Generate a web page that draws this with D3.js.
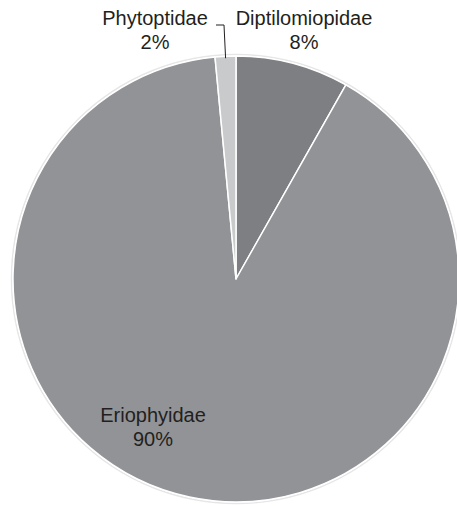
<!DOCTYPE html>
<html>
<head>
<meta charset="utf-8">
<script src="https://cdn.jsdelivr.net/npm/d3@7"></script>
<style>
  body { margin: 0; background: #fff; }
  svg { display: block; }
  text { font-family: "Liberation Sans", Arial, sans-serif; fill: #231f20; }
</style>
</head>
<body>
<div id="chart"></div>
<script>
// pie data, clockwise from 12 o'clock
const families = ['Diptilomiopidae', 'Eriophyidae', 'Phytoptidae'];
const shares = [8.2, 90.3, 1.5];
const percentLabels = ['8%', '90%', '2%'];
const sliceColors = ['#7e7f83', '#929397', '#c9cacc'];

const width = 457;
const height = 506;
const cx = 236, cy = 279, radius = 223;

// label centres (first line baseline), placed like the original
const labelPos = {
    'Diptilomiopidae': [304, 25],
    'Eriophyidae': [153, 422],
    'Phytoptidae': [155, 25]
};

const svg = d3.select('#chart')
    .append('svg')
    .attr('width', width)
    .attr('height', height);

const g = svg.append('g')
    .attr('transform', `translate(${cx},${cy})`);

const pie = d3.pie().sort(null).value(d => d.value);
const arc = d3.arc().innerRadius(0).outerRadius(radius);

const data = families.map((f, i) => ({ name: f, value: shares[i], label: percentLabels[i], color: sliceColors[i] }));
const arcs = pie(data);

// soft outer rim
g.append('circle')
    .attr('r', radius + 1.5)
    .attr('fill', 'none')
    .attr('stroke', '#e6e6e6')
    .attr('stroke-width', 1.5);

g.selectAll('path.slice')
    .data(arcs)
    .join('path')
    .attr('class', 'slice')
    .attr('d', arc)
    .attr('fill', d => d.data.color)
    .attr('stroke', '#fff')
    .attr('stroke-width', 1.5)
    .attr('stroke-linejoin', 'round');

// labels
const labels = svg.append('g');
arcs.forEach(d => {
    const [x, y] = labelPos[d.data.name];
    const t = labels.append('text')
        .attr('x', x)
        .attr('y', y)
        .attr('text-anchor', 'middle')
        .style('font-size', '20px');
    t.append('tspan').attr('x', x).text(d.data.name);
    t.append('tspan').attr('x', x).attr('dy', 23.5).text(d.data.label);
});

// leader line for the small slice
const small = arcs.find(d => d.data.name === 'Phytoptidae');
const mid = (small.startAngle + small.endAngle) / 2;
const ex = cx + Math.sin(mid) * (radius - 2);
const ey = cy - Math.cos(mid) * (radius - 2);
svg.append('path')
    .attr('d', `M216,25H224L${ex},${ey}`)
    .attr('fill', 'none')
    .attr('stroke', '#231f20')
    .attr('stroke-width', 1);
</script>
</body>
</html>
